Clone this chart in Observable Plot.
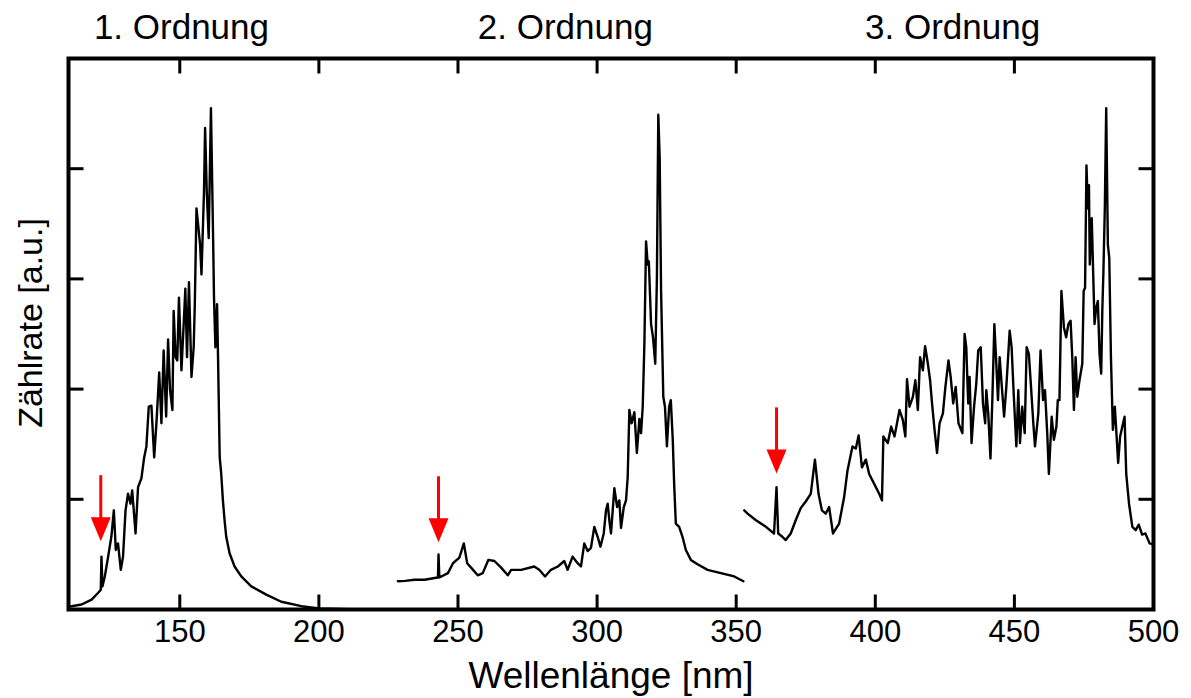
<!DOCTYPE html>
<html>
<head>
<meta charset="utf-8">
<script src="https://cdn.jsdelivr.net/npm/d3@7"></script>
<script src="https://cdn.jsdelivr.net/npm/@observablehq/plot@0.6"></script>
<style>
  html, body { margin: 0; padding: 0; background: #fff; }
</style>
</head>
<body>
<div id="chart"></div>
<script>
// ---- data ----
const order1Nm = [110.0,111.1,114.7,118.3,120.6,121.6,121.85,122.2,123.05,124.25,125.4,126.3,127.0,127.8,128.8,129.6,130.5,131.4,132.3,132.9,134.1,135.0,136.2,137.2,138.0,138.85,139.8,140.8,141.6,142.6,143.4,144.2,145.1,145.8,146.5,147.35,147.8,148.5,149.1,149.7,150.6,151.4,152.0,152.6,153.3,154.2,155.0,155.4,156.0,156.6,157.3,157.8,158.7,159.1,159.7,160.4,161.2,162.0,162.3,162.8,163.4,163.75,164.35,164.9,165.5,166.1,166.7,167.9,169.7,172.1,175.7,181.1,186.5,193.7,200.1,215.0];
const order1Val = [0.02,0.03,0.045,0.09,0.15,0.18,0.48,0.21,0.30,0.48,0.66,0.90,0.54,0.60,0.36,0.48,0.90,1.05,0.96,1.08,0.69,1.11,1.19,1.38,1.48,1.84,1.85,1.38,1.69,2.15,1.69,2.35,1.75,2.45,1.99,1.81,2.71,2.29,2.26,2.83,2.17,2.59,2.91,2.29,2.97,2.11,2.38,2.77,3.64,3.49,3.31,3.04,3.79,4.37,3.79,3.37,4.55,3.34,2.83,2.38,2.77,2.29,1.38,1.23,0.99,0.81,0.66,0.51,0.39,0.30,0.21,0.135,0.07,0.03,0.01,0.0];

const order2Nm = [228.4,231.0,234.4,238.0,241.6,242.8,243.0,243.3,246.4,248.2,250.5,252.1,253.3,254.7,257.1,258.9,260.9,263.1,265.5,267.9,269.1,272.7,277.4,279.2,281.3,283.4,285.9,288.2,289.4,291.2,293.0,294.2,295.4,296.6,297.8,299.0,300.2,301.2,302.4,303.2,303.8,304.4,305.0,306.2,307.2,308.0,308.6,309.6,310.4,311.0,311.6,312.4,313.4,314.3,315.2,315.8,316.4,317.0,317.6,318.2,318.6,319.4,320.1,320.9,321.5,322.0,322.5,323.0,323.8,324.4,325.1,325.9,326.5,327.2,327.7,328.3,329.5,330.7,331.9,333.7,336.1,339.7,344.5,349.3,352.6];
const order2Val = [0.256,0.26,0.27,0.27,0.286,0.29,0.50,0.29,0.33,0.42,0.47,0.60,0.42,0.38,0.31,0.33,0.45,0.44,0.38,0.31,0.36,0.36,0.39,0.36,0.30,0.36,0.39,0.44,0.36,0.48,0.42,0.39,0.60,0.53,0.56,0.75,0.66,0.57,0.69,0.90,0.96,0.81,0.69,1.10,0.93,0.99,0.74,0.93,0.99,1.20,1.81,1.69,1.79,1.42,1.73,1.60,1.84,2.41,3.34,3.13,3.16,2.59,2.47,2.23,3.01,4.49,4.10,2.89,1.93,1.84,1.48,1.84,1.90,1.54,1.14,0.78,0.75,0.66,0.54,0.45,0.41,0.36,0.33,0.30,0.256];

const order3Nm = [352.9,354.1,357.1,360.7,363.6,364.5,365.1,366.6,367.8,369.6,371.4,373.2,375.0,376.8,378.3,379.6,380.8,382.2,383.4,384.8,387.0,388.8,390.0,391.8,393.0,394.0,395.2,396.6,397.8,399.6,401.4,402.4,402.9,404.5,405.7,406.9,408.7,409.9,410.8,411.4,412.3,413.5,414.4,415.3,416.1,417.1,417.9,418.9,419.7,420.4,421.3,422.2,423.1,424.3,425.2,426.3,427.1,428.0,428.9,429.9,431.3,432.1,432.7,433.4,433.9,434.6,435.5,436.3,437.0,437.9,438.7,439.5,439.9,440.6,441.4,442.1,442.8,443.5,444.1,444.7,445.4,446.3,447.1,448.3,449.0,449.8,450.7,451.4,452.0,452.8,453.7,454.4,455.2,455.9,456.8,457.4,458.6,459.4,460.3,461.0,461.8,462.4,463.4,464.2,465.1,465.6,466.2,466.9,467.8,468.6,469.4,470.2,470.8,471.4,472.0,472.6,473.4,474.4,474.9,475.4,475.9,476.4,476.8,477.1,477.8,478.3,478.8,479.4,480.0,480.6,481.2,481.6,482.0,482.5,483.0,483.6,484.1,484.7,485.4,486.1,486.6,487.3,488.0,488.8,489.6,490.2,491.2,492.4,493.6,494.7,495.9,497.1,498.6,500.0];
const order3Val = [0.90,0.87,0.81,0.75,0.69,1.11,0.69,0.66,0.63,0.69,0.81,0.92,0.98,1.05,1.36,1.05,0.90,0.87,0.93,0.69,0.78,1.02,1.26,1.48,1.46,1.58,1.29,1.36,1.23,1.14,1.05,0.99,1.57,1.51,1.66,1.57,1.81,1.72,1.57,2.09,1.84,1.93,2.08,1.81,2.29,2.17,2.39,2.23,2.08,1.87,1.63,1.42,1.69,1.78,2.02,2.26,2.11,1.87,2.02,1.69,1.60,2.50,2.38,1.87,2.11,1.51,1.84,2.05,2.35,2.38,1.87,1.69,1.99,1.78,1.37,1.93,2.59,2.23,1.90,2.29,2.05,1.75,2.02,2.53,2.38,1.93,1.48,1.99,1.51,1.84,1.60,2.38,2.32,2.05,1.69,1.48,1.78,2.35,1.90,1.99,1.60,1.23,1.75,1.54,1.66,1.90,1.90,2.89,2.56,2.47,2.59,2.62,2.29,1.81,2.29,1.93,2.08,2.23,2.89,2.92,4.03,3.64,3.85,3.13,3.55,3.07,2.59,2.74,2.80,2.32,2.14,2.71,3.07,3.64,4.55,3.31,3.19,2.29,1.63,1.84,1.63,1.33,1.57,1.66,1.75,1.23,0.96,0.75,0.72,0.77,0.68,0.69,0.60,0.59];

const orderTitles = ["1. Ordnung", "2. Ordnung", "3. Ordnung"];
const orderTitleNm = [150.6, 288.6, 427.8];

const arrowNm = [121.6, 243.0, 364.5];
const arrowTipVal = [0.62, 0.61, 1.235];

const xTicks = [150, 200, 250, 300, 350, 400, 450, 500];
const yTicks = [1, 2, 3, 4];
const xDomain = [110, 500];
const yDomain = [0, 5];
const xLabel = "Wellenlänge [nm]";
const yLabel = "Zählrate [a.u.]";

// ---- build table ----
const spectrum = [];
[[order1Nm, order1Val, 1], [order2Nm, order2Val, 2], [order3Nm, order3Val, 3]].forEach(([xs, vs, o]) => {
  xs.forEach((x, i) => spectrum.push({nm: x, val: vs[i], order: o}));
});
const titles = orderTitles.map((t, i) => ({t, nm: orderTitleNm[i]}));
const arrows = arrowNm.map((nm, i) => ({nm, tip: arrowTipVal[i]}));

const tickLine = {draw(c, l) { c.moveTo(0, 0); c.lineTo(0, -l); }};
const shaft = {draw(c, l) { c.moveTo(0, 0); c.lineTo(0, -l + 14); }};
const head = {draw(c, l) { c.moveTo(-10, 0); c.lineTo(0, -l); c.lineTo(10, 0); c.closePath(); }};

const TL = 15;
const chart = Plot.plot({
  width: 1191,
  height: 698,
  marginLeft: 68,
  marginRight: 38,
  marginTop: 58,
  marginBottom: 89,
  style: {fontFamily: "'Liberation Sans', Arial, sans-serif", background: "#fff", color: "#000"},
  x: {domain: xDomain, axis: null},
  y: {domain: yDomain, axis: null},
  marks: [
    Plot.line(spectrum, {x: "nm", y: "val", z: "order", stroke: "#000", strokeWidth: 2.4, strokeLinejoin: "round"}),
    // inward ticks
    Plot.vector(xTicks.slice(0, -1), {x: d => d, y: yDomain[0], length: TL, rotate: 0, anchor: "start", shape: tickLine, stroke: "#000", strokeWidth: 3, strokeLinecap: "butt"}),
    Plot.vector(xTicks.slice(0, -1), {x: d => d, y: yDomain[1], length: TL, rotate: 180, anchor: "start", shape: tickLine, stroke: "#000", strokeWidth: 3, strokeLinecap: "butt"}),
    Plot.vector(yTicks, {x: xDomain[0], y: d => d, length: TL, rotate: 90, anchor: "start", shape: tickLine, stroke: "#000", strokeWidth: 3, strokeLinecap: "butt"}),
    Plot.vector(yTicks, {x: xDomain[1], y: d => d, length: TL, rotate: -90, anchor: "start", shape: tickLine, stroke: "#000", strokeWidth: 3, strokeLinecap: "butt"}),
    Plot.frame({stroke: "#000", strokeWidth: 4}),
    // tick labels
    Plot.text(xTicks, {x: d => d, y: yDomain[0], text: d => String(d), dy: 23, fontSize: 31, lineAnchor: "middle", fill: "#000"}),
    Plot.text([xLabel], {x: (xDomain[0] + xDomain[1]) / 2, y: yDomain[0], text: d => d, dy: 67, fontSize: 37, lineAnchor: "middle", fill: "#000"}),
    Plot.text([yLabel], {x: xDomain[0], y: 2.6, text: d => d, dx: -37, rotate: -90, fontSize: 34, lineAnchor: "middle", fill: "#000"}),
    // order titles
    Plot.text(titles, {x: "nm", y: yDomain[1], text: "t", dy: -31, fontSize: 35, lineAnchor: "middle", fill: "#000"}),
    // red arrows
    Plot.vector(arrows, {x: "nm", y: "tip", length: 66, rotate: 180, anchor: "end", shape: shaft, stroke: "#ff0000", strokeWidth: 3, strokeLinecap: "butt"}),
    Plot.vector(arrows, {x: "nm", y: "tip", length: 24, rotate: 180, anchor: "end", shape: head, fill: "#ff0000", stroke: "none"})
  ]
});
document.getElementById("chart").appendChild(chart);
</script>
</body>
</html>
